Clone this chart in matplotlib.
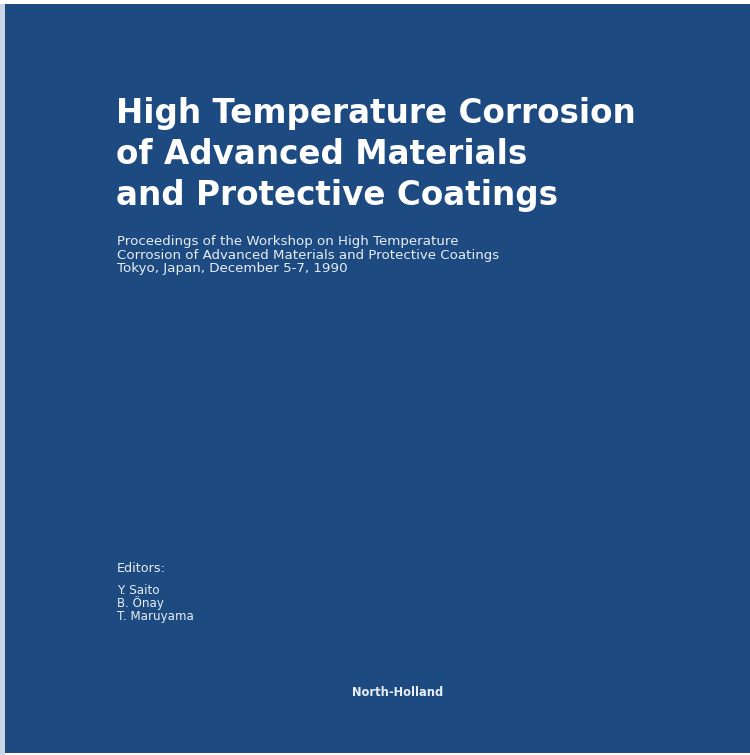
import matplotlib
matplotlib.use("Agg")
import matplotlib.pyplot as plt
from matplotlib.patches import Rectangle

title_lines = ["High Temperature Corrosion", "of Advanced Materials", "and Protective Coatings"]
subtitle_lines = ["Proceedings of the Workshop on High Temperature",
                  "Corrosion of Advanced Materials and Protective Coatings",
                  "Tokyo, Japan, December 5-7, 1990"]
editors_label = "Editors:"
editors = ["Y. Saito", "B. Önay", "T. Maruyama"]
publisher = "North-Holland"

W, H = 750, 755
fig = plt.figure(figsize=(W / 100, H / 100), dpi=100)
fig.patch.set_facecolor("white")
ax = fig.add_axes([0, 0, 1, 1])
ax.set_xlim(0, W)
ax.set_ylim(H, 0)
ax.axis("off")

# light edge strip on the left
ax.add_patch(Rectangle((0, 4), 5, H - 4, facecolor="#c9d6e6", edgecolor="none"))
# cover body
ax.add_patch(Rectangle((5, 4), W - 5, H - 6, facecolor="#1d4a80", edgecolor="none"))

fam = ["DejaVu Sans"]
for i, line in enumerate(title_lines):
    ax.text(116, 123 + i * 41, line, color="white", fontsize=23.5, fontweight="bold",
            family=fam, va="baseline", ha="left")

for i, line in enumerate(subtitle_lines):
    ax.text(117, 245 + i * 13.5, line, color="#e8eef6", fontsize=9.6,
            family=fam, va="baseline", ha="left")

ax.text(117, 572, editors_label, color="#e8eef6", fontsize=9.2, family=fam, va="baseline", ha="left")
for i, e in enumerate(editors):
    ax.text(117, 594 + i * 12.8, e, color="#e8eef6", fontsize=8.6, family=fam,
            va="baseline", ha="left")

ax.text(398, 693, publisher, color="#e8eef6", fontsize=8.3, fontweight="bold",
        family=fam, va="center", ha="center")

fig.savefig("out.png", dpi=100, facecolor=fig.get_facecolor())
